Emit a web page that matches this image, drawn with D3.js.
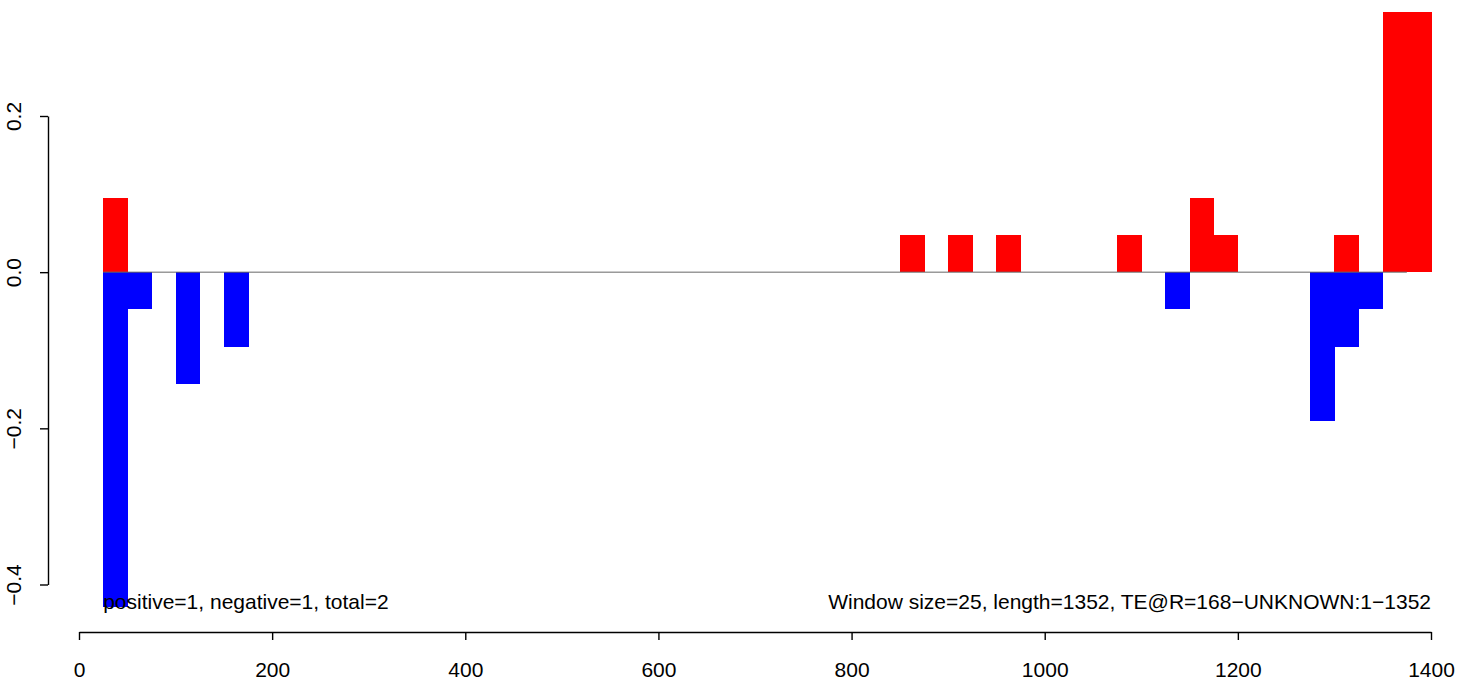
<!DOCTYPE html>
<html><head><meta charset="utf-8">
<script src="https://cdn.jsdelivr.net/npm/d3@7"></script>
<style>body{margin:0;background:#fff}svg{display:block}text{font-family:"Liberation Sans",Arial,sans-serif}</style>
</head><body>
<script>
const windowStarts = [25,50,100,150,850,900,950,1075,1125,1150,1175,1275,1300,1325,1350,1375];
const positiveVals = [0.0952,0,0,0,0.0476,0.0476,0.0476,0.0476,0,0.0952,0.0476,0,0.0476,0,0.3333,0.3333];
const negativeVals = [-0.4286,-0.0476,-0.1429,-0.0952,0,0,0,0,-0.0476,0,0,-0.1905,-0.0952,-0.0476,0,0];
const windowSize = 25;
const xTicks = [0,200,400,600,800,1000,1200,1400];
const yTicks = [-0.4,-0.2,0.0,0.2];
const leftNote = "positive=1, negative=1, total=2";
const rightNote = "Window size=25, length=1352, TE@R=168\u2212UNKNOWN:1\u22121352";

const W=1472,H=683, FS=21;
const svg=d3.select("body").append("svg").attr("width",W).attr("height",H);
const x=d3.scaleLinear().domain([0,1400]).range([79,1431]);
const y=d3.scaleLinear().domain([-0.4,0.2]).range([584.5,116]);

// bars
const data=windowStarts.map((s,i)=>({s,p:positiveVals[i],n:negativeVals[i]}));
svg.append("g").attr("shape-rendering","crispEdges").selectAll("rect").data(data.filter(d=>d.p>0)).join("rect")
  .attr("x",d=>x(d.s)).attr("width",d=>x(d.s+windowSize)-x(d.s)+0.5)
  .attr("y",d=>y(d.p)).attr("height",d=>y(0)-y(d.p)).attr("fill","#ff0000");
svg.append("g").attr("shape-rendering","crispEdges").selectAll("rect").data(data.filter(d=>d.n<0)).join("rect")
  .attr("x",d=>x(d.s)).attr("width",d=>x(d.s+windowSize)-x(d.s)+0.5)
  .attr("y",y(0)).attr("height",d=>y(d.n)-y(0)).attr("fill","#0000ff");
// zero line
svg.append("line").attr("x1",x(25)).attr("x2",x(1375)).attr("y1",y(0)).attr("y2",y(0))
  .attr("stroke","#666").attr("stroke-width",1);

// x axis
const xa=svg.append("g").attr("transform","translate(0,632)")
  .call(d3.axisBottom(x).tickValues(xTicks).tickFormat(d3.format("d")).tickSize(8).tickSizeOuter(0).tickPadding(22));
xa.select(".domain").attr("stroke","#000").attr("stroke-width",1.4);
xa.selectAll(".tick line").attr("stroke-width",1.4);
xa.selectAll("text").attr("font-size",FS).attr("fill","#000").attr("font-family","Liberation Sans, Arial, sans-serif");

// y axis
const ya=svg.append("g").attr("transform","translate(48,0)")
  .call(d3.axisLeft(y).tickValues(yTicks).tickFormat(d=>d3.format(".1f")(d).replace("-","\u2212")).tickSize(8).tickSizeOuter(0));
ya.select(".domain").attr("stroke","#000").attr("stroke-width",1.4);
ya.selectAll(".tick line").attr("stroke-width",1.4);
ya.selectAll("text").attr("font-size",FS).attr("fill","#000").attr("font-family","Liberation Sans, Arial, sans-serif")
  .attr("x",0).attr("dy",0).attr("text-anchor","middle")
  .attr("transform","translate(-33,0) rotate(-90)").attr("dominant-baseline","middle");

// notes
svg.append("text").attr("x",x(25)).attr("y",609).attr("font-size",FS).text(leftNote);
svg.append("text").attr("x",1431).attr("y",609).attr("font-size",FS).attr("text-anchor","end").text(rightNote);
</script>
</body></html>
